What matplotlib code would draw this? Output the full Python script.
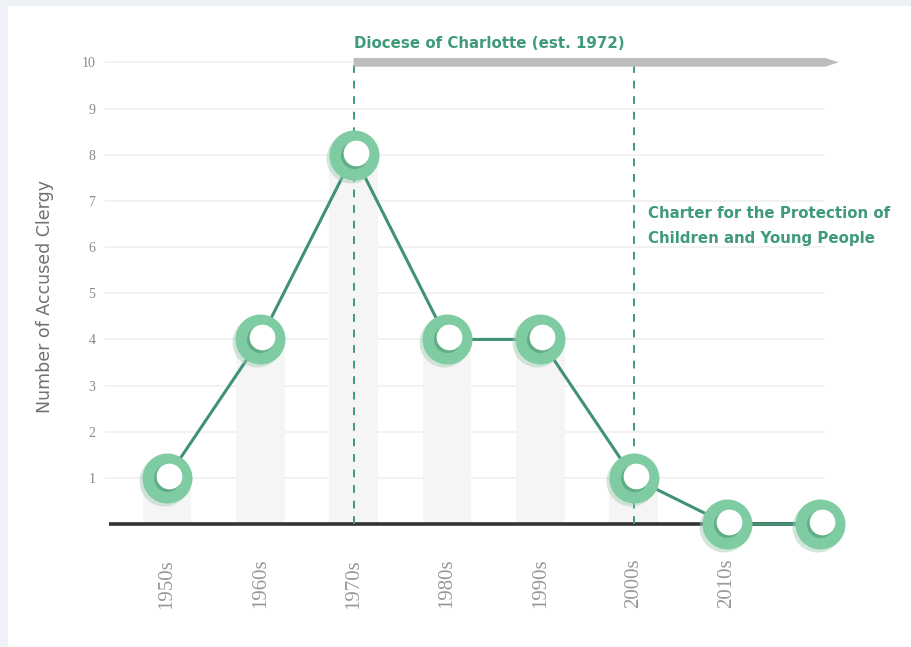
import matplotlib
matplotlib.use("Agg")
import matplotlib.pyplot as plt
import matplotlib.transforms as mtransforms
from matplotlib.patches import Rectangle

decades = ["1950s", "1960s", "1970s", "1980s", "1990s", "2000s", "2010s", ""]
accused = [1, 4, 8, 4, 4, 1, 0, 0]
y_ticks = [1, 2, 3, 4, 5, 6, 7, 8, 9, 10]
diocese_label = "Diocese of Charlotte (est. 1972)"
charter_label = "Charter for the Protection of\nChildren and Young People"
diocese_idx = 2
charter_idx = 5

ring_green = "#80cca2"
ring_dark = "#5fae86"
line_green = "#3f9272"
text_green = "#3f9a78"
grey_text = "#8a8a8a"

fig = plt.figure(figsize=(9.12, 6.47), dpi=100)
fig.patch.set_facecolor("#eef2f7")
fig.patches.append(Rectangle((8 / 912, 0), 1, 1 - 6 / 647, transform=fig.transFigure,
                             facecolor="white", edgecolor="none", zorder=-5))

ax = fig.add_axes([105 / 912, 109 / 647, 745 / 912, 508 / 647])
ax.set_facecolor("none")
ax.set_xlim(-0.665, 7.32)
ax.set_ylim(-0.3, 10.7)
for s in ax.spines.values():
    s.set_visible(False)

x = list(range(len(accused)))

# horizontal grid
ax.hlines(y_ticks, -0.665, 7.05, color="#f0f0f0", lw=1.2, zorder=1)

# faint bars behind points
ax.bar(x, accused, width=0.52, color="#f5f5f5", zorder=1.5)

# baseline
ax.plot([-0.62, 7.0], [0, 0], color="#333333", lw=2.6, zorder=2, solid_capstyle="butt")

# dashed event lines
for i in (diocese_idx, charter_idx):
    ax.plot([i, i], [0, 10], color=text_green, lw=1.4, ls=(0, (4, 4)), zorder=2.5)

# grey arrow for the diocese period
ax.annotate("", xy=(7.2, 10), xytext=(diocese_idx, 10), annotation_clip=False,
            arrowprops=dict(arrowstyle="simple,head_length=0.7,head_width=0.45,tail_width=0.45",
                            mutation_scale=14, color="#bdbdbd", lw=0,
                            shrinkA=0, shrinkB=0), zorder=3)

ax.text(diocese_idx, 10.25, diocese_label, color=text_green, fontsize=10.8,
        fontweight="semibold", ha="left", va="bottom", family="DejaVu Sans")
ax.text(charter_idx + 0.15, 6.46, charter_label, color=text_green, fontsize=10.8,
        fontweight="semibold", ha="left", va="center", linespacing=1.8, family="DejaVu Sans")

# trend line
ax.plot(x, accused, color=line_green, lw=2.2, zorder=4)

# ring markers with soft shadow
shadow_tr = mtransforms.offset_copy(ax.transData, fig=fig, x=-3, y=-3, units="dots")
hole_tr = mtransforms.offset_copy(ax.transData, fig=fig, x=2, y=2, units="dots")
ax.plot(x, accused, "o", ms=36, color="#9fc9b2", alpha=0.45, mew=0,
        transform=shadow_tr, zorder=5, clip_on=False)
ax.plot(x, accused, "o", ms=36, color=ring_green, mew=0, zorder=6, clip_on=False)
ax.plot(x, accused, "o", ms=19.5, color=ring_dark, mew=0, zorder=7, clip_on=False)
ax.plot(x, accused, "o", ms=18.5, color="white", mew=0, transform=hole_tr,
        zorder=8, clip_on=False)

# ticks
ax.set_yticks(y_ticks)
ax.set_yticklabels([str(v) for v in y_ticks], family="Liberation Serif",
                   fontsize=10, color=grey_text)
ax.set_xticks(x)
ax.set_xticklabels(decades, rotation=90, family="Liberation Serif",
                   fontsize=15, color="#999999", va="top", ha="center")
ax.tick_params(axis="both", length=0)
ax.tick_params(axis="y", pad=7)
ax.tick_params(axis="x", pad=15)

fig.text(45 / 912, 1 - 296 / 647, "Number of Accused Clergy", rotation=90,
         ha="center", va="center", color="#707070", fontsize=12.5, family="DejaVu Sans")

fig.savefig("out.png", dpi=100, facecolor=fig.get_facecolor())
